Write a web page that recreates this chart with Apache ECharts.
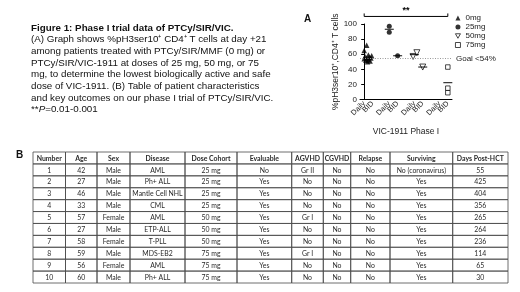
<!DOCTYPE html>
<html>
<head>
<meta charset="utf-8">
<script src="https://cdn.jsdelivr.net/npm/echarts@6/dist/echarts.min.js"></script>
<style>
html, body { margin: 0; padding: 0; background: #fff; }
#main { width: 520px; height: 292px; }
</style>
</head>
<body>
<div id="main"></div>
<script>
// panel A data
const xLabels = ['Daily', 'BID', '', 'Daily', 'BID', '', 'Daily', 'BID', '', 'Daily', 'BID']
const yTicks = [0, 20, 40, 60, 80, 100]
const goalValue = 54
// [x position on category axis, %pH3ser10+ CD4+]
const pts0mg = [[0.3, 72], [0.0, 65], [0.5, 59], [0.9, 58], [0.1, 57], [0.6, 56], [0.3, 55], [0.8, 55], [0.0, 54], [0.5, 53], [0.2, 52], [0.7, 51], [0.4, 50]]
const pts25mg = [[3, 97], [3, 89], [4, 58]]
const pts50mg = [[5.85, 57], [6.3, 62], [7, 43]]
const pts75mg = [[10, 43], [10, 15], [10, 9]]

// panel B data
const headers = ['Number', 'Age', 'Sex', 'Disease', 'Dose Cohort', 'Evaluable', 'AGVHD', 'CGVHD', 'Relapse', 'Surviving', 'Days Post-HCT']
const numbers = ['1', '2', '3', '4', '5', '6', '7', '8', '9', '10']
const ages = ['42', '27', '46', '33', '57', '27', '58', '59', '56', '60']
const sexes = ['Male', 'Male', 'Male', 'Male', 'Female', 'Male', 'Female', 'Male', 'Female', 'Male']
const diseases = ['AML', 'Ph+ ALL', 'Mantle Cell NHL', 'CML', 'AML', 'ETP-ALL', 'T-PLL', 'MDS-EB2', 'AML', 'Ph+ ALL']
const doseCohorts = ['25 mg', '25 mg', '25 mg', '25 mg', '50 mg', '50 mg', '50 mg', '75 mg', '75 mg', '75 mg']
const evaluable = ['No', 'Yes', 'Yes', 'Yes', 'Yes', 'Yes', 'Yes', 'Yes', 'Yes', 'Yes']
const agvhd = ['Gr II', 'No', 'No', 'No', 'Gr I', 'No', 'No', 'Gr I', 'No', 'No']
const cgvhd = ['No', 'No', 'No', 'No', 'No', 'No', 'No', 'No', 'No', 'No']
const relapse = ['No', 'No', 'No', 'No', 'No', 'No', 'No', 'No', 'No', 'No']
const surviving = ['No (coronavirus)', 'Yes', 'Yes', 'Yes', 'Yes', 'Yes', 'Yes', 'Yes', 'Yes', 'Yes']
const daysPostHct = ['55', '425', '404', '356', '265', '264', '236', '114', '65', '30']

const captionLines = [
  '{b|Figure 1: Phase I trial data of PTCy/SIR/VIC.}',
  '(A) Graph shows %pH3ser10⁺ CD4⁺ T cells at day +21',
  'among patients treated with PTCy/SIR/MMF (0 mg) or',
  'PTCy/SIR/VIC-1911 at doses of 25 mg, 50 mg, or 75',
  'mg, to determine the lowest biologically active and safe',
  'dose of VIC-1911. (B) Table of patient characteristics',
  'and key outcomes on our phase I trial of PTCy/SIR/VIC.',
  '**{i|P}=0.01-0.001'
]

// table layout (pixel widths of the columns)
const colEdges = [0, 32.5, 64, 97, 152, 204, 258.7, 290.3, 317.7, 357, 419.7, 475]

const columns = [numbers, ages, sexes, diseases, doseCohorts, evaluable, agvhd, cgvhd, relapse, surviving, daysPostHct]
const cells = []
headers.forEach(function (h, c) { cells.push({ value: [c, 0], text: h, head: true }) })
columns.forEach(function (col, c) {
  col.forEach(function (v, r) { cells.push({ value: [c, r + 1], text: v, head: false }) })
})

// group means for the short horizontal bars
function means (pts) {
  const groups = {}
  pts.forEach(function (p) {
    const k = Math.round(p[0])
    if (!groups[k]) groups[k] = []
    groups[k].push(p[1])
  })
  return Object.keys(groups).map(function (k) {
    const g = groups[k]
    return [Number(k), g.reduce(function (a, b) { return a + b }, 0) / g.length]
  })
}
const meanPts = [].concat(means(pts25mg), means(pts50mg), means(pts75mg))

const font = 'Liberation Sans'
const openStyle = { color: '#fff', borderColor: '#000', borderWidth: 0.9 }
const chart = echarts.init(document.getElementById('main'))

chart.setOption({
  animation: false,
  textStyle: { fontFamily: font },
  grid: [
    { left: 360, top: 24, width: 92, height: 75.5 },
    { left: 33, top: 152, width: 475, height: 131 }
  ],
  legend: {
    orient: 'vertical',
    left: 455,
    top: 14,
    padding: 0,
    itemWidth: 5,
    itemHeight: 5,
    itemGap: 1,
    data: [
      { name: '0mg' },
      { name: '25mg' },
      { name: '50mg', icon: 'path://M0,0L10,0L5,9Z', itemStyle: openStyle },
      { name: '75mg', icon: 'rect', itemStyle: openStyle }
    ],
    textStyle: { fontSize: 8, color: '#222', lineHeight: 7, padding: [0, 0, 0, 0] }
  },
  xAxis: [
    {
      type: 'category',
      gridIndex: 0,
      data: xLabels,
      axisLine: { lineStyle: { color: '#000', width: 1 } },
      axisTick: { alignWithLabel: true, length: 3, interval: function (i, v) { return v !== '' }, lineStyle: { color: '#000' } },
      axisLabel: { interval: 0, rotate: 45, fontSize: 7.5, color: '#222', margin: 3 },
      name: 'VIC-1911 Phase I',
      nameLocation: 'middle',
      nameGap: 28,
      nameTextStyle: { fontSize: 8.5, color: '#222' }
    },
    { type: 'value', gridIndex: 0, min: -0.5, max: 10.5, show: false },
    { type: 'value', gridIndex: 1, min: 0, max: 475, show: false }
  ],
  yAxis: [
    {
      type: 'value',
      gridIndex: 0,
      min: 0,
      max: 100,
      interval: 20,
      axisLine: { show: true, lineStyle: { color: '#000', width: 1 } },
      axisTick: { show: true, length: 3, lineStyle: { color: '#000' } },
      splitLine: { show: false },
      axisLabel: { fontSize: 8, color: '#222', margin: 3, customValues: yTicks },
      name: '%pH3ser10⁺,CD4⁺ T cells',
      nameLocation: 'middle',
      nameRotate: 90,
      nameGap: 15,
      nameTextStyle: { fontSize: 8.5, color: '#222' }
    },
    {
      type: 'category',
      gridIndex: 1,
      inverse: true,
      data: ['h', '1', '2', '3', '4', '5', '6', '7', '8', '9', '10'],
      show: false
    }
  ],
  series: [
    {
      name: '0mg', type: 'scatter', xAxisIndex: 1, yAxisIndex: 0,
      symbol: 'triangle', symbolSize: 5.5,
      itemStyle: { color: '#000' },
      data: pts0mg
    },
    {
      name: '25mg', type: 'scatter', xAxisIndex: 1, yAxisIndex: 0,
      symbol: 'circle', symbolSize: 5,
      itemStyle: { color: '#000' },
      data: pts25mg
    },
    {
      name: '50mg', type: 'scatter', xAxisIndex: 1, yAxisIndex: 0,
      symbol: 'triangle', symbolRotate: 180, symbolSize: 6,
      itemStyle: openStyle,
      data: pts50mg
    },
    {
      name: '75mg', type: 'scatter', xAxisIndex: 1, yAxisIndex: 0,
      symbol: 'rect', symbolSize: 4.5,
      itemStyle: openStyle,
      data: pts75mg
    },
    {
      name: 'mean', type: 'scatter', xAxisIndex: 1, yAxisIndex: 0,
      symbol: 'rect', symbolSize: [9, 1.2],
      itemStyle: { color: '#000' },
      data: meanPts,
      markLine: {
        silent: true,
        symbol: 'none',
        lineStyle: { type: [1, 1.5], color: '#999', width: 1 },
        label: { position: 'end', formatter: 'Goal <54%', fontSize: 8, color: '#222', distance: 4 },
        data: [{ yAxis: goalValue }]
      }
    },
    {
      name: 'table', type: 'custom', xAxisIndex: 2, yAxisIndex: 1,
      data: cells,
      renderItem: function (params, api) {
        const cell = cells[params.dataIndex]
        const c = api.value(0)
        const r = api.value(1)
        const p0 = api.coord([colEdges[c], r])
        const p1 = api.coord([colEdges[c + 1], r])
        const h = api.size([0, 1])[1]
        return {
          type: 'group',
          children: [
            {
              type: 'rect',
              shape: { x: p0[0], y: p0[1] - h / 2, width: p1[0] - p0[0], height: h },
              style: { fill: 'none', stroke: '#4a4a4a', lineWidth: 0.8 }
            },
            {
              type: 'text',
              style: {
                text: cell.text,
                x: (p0[0] + p1[0]) / 2,
                y: p0[1] + 0.5,
                align: 'center',
                verticalAlign: 'middle',
                fontFamily: 'Lato',
                fontSize: 6.9,
                fontWeight: cell.head ? 'bold' : 'normal',
                fill: '#2a2a2a'
              }
            }
          ]
        }
      }
    }
  ],
  graphic: [
    {
      id: 'caption', type: 'text', left: 31, top: 22,
      style: {
        text: captionLines.join('\n'),
        fontFamily: font, fontSize: 9.8, lineHeight: 11.7, fill: '#111',
        rich: {
          b: { fontFamily: font, fontSize: 9.8, fontWeight: 'bold', lineHeight: 11.7, fill: '#111' },
          i: { fontFamily: font, fontSize: 9.8, fontStyle: 'italic', lineHeight: 11.7, fill: '#111' }
        }
      }
    },
    { id: 'labelA', type: 'text', left: 304, top: 14, style: { text: 'A', fontFamily: font, fontSize: 10, fontWeight: 'bold', fill: '#111' } },
    { id: 'labelB', type: 'text', left: 16, top: 150, style: { text: 'B', fontFamily: font, fontSize: 10, fontWeight: 'bold', fill: '#111' } }
  ]
})

// significance bracket above the groups, placed with the axis scales
const bL = chart.convertToPixel({ xAxisIndex: 1, yAxisIndex: 0 }, [0, 110])
const bR = chart.convertToPixel({ xAxisIndex: 1, yAxisIndex: 0 }, [10, 110])
chart.setOption({
  graphic: [
    {
      id: 'bracket', type: 'polyline',
      shape: { points: [[bL[0], bL[1] - 3], [bL[0], bL[1]], [bR[0], bR[1]], [bR[0], bR[1] - 3]] },
      style: { stroke: '#000', lineWidth: 1, fill: 'none' }
    },
    {
      id: 'stars', type: 'text', x: (bL[0] + bR[0]) / 2, y: bL[1] - 1,
      style: { text: '**', fontFamily: font, fontSize: 9, fontWeight: 'bold', fill: '#000', align: 'center', verticalAlign: 'bottom' }
    }
  ]
})
</script>
</body>
</html>
